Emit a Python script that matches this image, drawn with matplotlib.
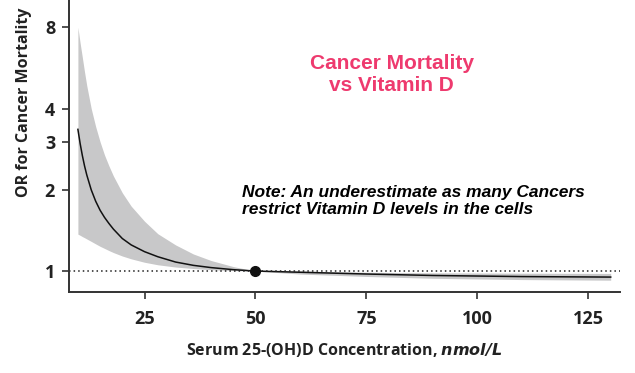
import numpy as np
import matplotlib.pyplot as plt

# data (OR, log scale)
x = [10, 10.5, 11, 11.5, 12, 13, 14, 15, 16, 17, 18, 20, 22, 25, 28, 32, 36, 40, 45, 50,
     60, 75, 90, 110, 130]
odds = [3.35, 2.97, 2.68, 2.45, 2.27, 2.0, 1.815, 1.68, 1.58, 1.5, 1.43, 1.32, 1.25, 1.18, 1.13, 1.08, 1.05,
        1.03, 1.012, 1.0, 0.99, 0.975, 0.963, 0.954, 0.95]
upper = [8.0, 7.0, 6.19, 5.46, 4.86, 4.0, 3.43, 3.01, 2.69, 2.45, 2.25, 1.95, 1.74, 1.53, 1.375, 1.25, 1.157,
         1.094, 1.039, 1.0, 1.0, 0.99, 0.985, 0.982, 0.98]
lower = [1.37, 1.357, 1.342, 1.329, 1.315, 1.288, 1.261, 1.235, 1.213, 1.191, 1.171, 1.137, 1.11, 1.078,
         1.055, 1.035, 1.022, 1.012, 1.004, 1.0, 0.975, 0.955, 0.94, 0.93, 0.925]
ref_x, ref_y = 50, 1.0
yticks = [1, 2, 3, 4, 8]
xticks = [25, 50, 75, 100, 125]

plt.rcParams['font.family'] = ['Open Sans', 'DejaVu Sans']

fig = plt.figure(figsize=(6.35, 3.73), dpi=100)
ax = fig.add_axes([0.1087, 0.217, 0.867, 0.783])

ax.fill_between(x, lower, upper, color='#c8c8c9', lw=0)
ax.plot(x, odds, color='#111111', lw=1.1)
ax.axhline(1, color='#222222', lw=1.1, ls=(0, (1, 2)))
ax.plot([ref_x], [ref_y], 'o', color='#111111', ms=7)

ax.set_yscale('log')
ax.set_ylim(0.836, 10.1)
ax.set_xlim(8, 132)
ax.set_yticks(yticks)
ax.set_yticklabels([str(v) for v in yticks])
ax.minorticks_off()
ax.set_xticks(xticks)

for s in ['top', 'right']:
    ax.spines[s].set_visible(False)
for s in ['left', 'bottom']:
    ax.spines[s].set_linewidth(1.4)
    ax.spines[s].set_color('#333333')
ax.tick_params(length=5, width=1.2, color='#333333', labelsize=13)
ax.tick_params(axis='x', pad=8)
ax.tick_params(axis='y', pad=5)
for lab in ax.get_xticklabels() + ax.get_yticklabels():
    lab.set_fontweight('bold')
    lab.set_color('#222222')

ax.set_ylabel('OR for Cancer Mortality', fontsize=11.5, fontweight='bold', color='#222222', labelpad=12)
ax.yaxis.set_label_coords(-0.068, 0.65)
ax.set_xlabel(r'Serum 25-(OH)D Concentration, $\mathbfit{nmol/L}$', fontsize=11.5, fontweight='bold',
              color='#222222', labelpad=9)

fig.text(0.617, 0.80, 'Cancer Mortality\nvs Vitamin D', ha='center', va='center', color='#ee3a6e',
         fontsize=15, fontweight='bold', family='Liberation Sans', linespacing=1.2)
fig.text(0.381, 0.461, 'Note: An underestimate as many Cancers\nrestrict Vitamin D levels in the cells',
         ha='left', va='center', color='black', fontsize=12.5, fontweight='bold', style='italic',
         family='Liberation Sans', linespacing=1.15)

fig.savefig('out.png', dpi=100)
